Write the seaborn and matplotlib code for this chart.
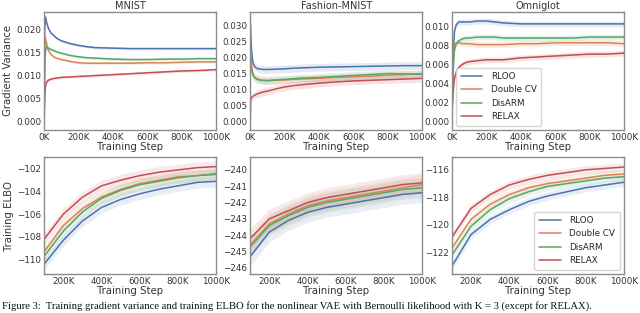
import numpy as np
import pandas as pd
import matplotlib
matplotlib.use("Agg")
import matplotlib.pyplot as plt
import seaborn as sns
from matplotlib.ticker import FuncFormatter, FixedLocator

sns.set_theme(style="white")
plt.rcParams['font.family'] = ['DejaVu Sans']

methods = ["RLOO", "Double CV", "DisARM", "RELAX"]
colors = ["#4c72b0", "#dd8452", "#55a868", "#c44e52"]
datasets = ["MNIST", "Fashion-MNIST", "Omniglot"]

# ---- gradient variance (top row), steps in K ----
var_steps = [0, 3, 8, 15, 25, 40, 60, 80, 100, 150, 200, 250, 300, 400, 500, 600, 700, 800, 900, 1000]

mnist_var_rloo  = [0.0, 0.0200, 0.0228, 0.0215, 0.0203, 0.0193, 0.0186, 0.0180, 0.0176, 0.0170, 0.0166, 0.0163, 0.0161, 0.0160, 0.0159, 0.0159, 0.0159, 0.0159, 0.0159, 0.0159]
mnist_var_dcv   = [0.0, 0.0160, 0.0182, 0.0168, 0.0155, 0.0146, 0.0140, 0.0137, 0.0135, 0.0131, 0.0128, 0.0127, 0.0127, 0.0127, 0.0127, 0.0128, 0.0128, 0.0129, 0.0130, 0.0130]
mnist_var_dis   = [0.0, 0.0120, 0.0155, 0.0163, 0.0160, 0.0157, 0.0154, 0.0151, 0.0149, 0.0144, 0.0141, 0.0139, 0.0138, 0.0136, 0.0135, 0.0135, 0.0136, 0.0136, 0.0137, 0.0137]
mnist_var_relax = [0.0, 0.0050, 0.0078, 0.0086, 0.0090, 0.0092, 0.0094, 0.0095, 0.0096, 0.0097, 0.0098, 0.0099, 0.0100, 0.0102, 0.0104, 0.0106, 0.0108, 0.0110, 0.0111, 0.0113]

fmnist_var_rloo  = [0.0320, 0.0280, 0.0220, 0.0185, 0.0172, 0.0166, 0.0164, 0.0163, 0.0163, 0.0164, 0.0165, 0.0167, 0.0168, 0.0170, 0.0171, 0.0172, 0.0173, 0.0174, 0.0175, 0.0175]
fmnist_var_dcv   = [0.0250, 0.0220, 0.0175, 0.0150, 0.0138, 0.0133, 0.0130, 0.0129, 0.0128, 0.0129, 0.0130, 0.0132, 0.0133, 0.0135, 0.0138, 0.0140, 0.0142, 0.0145, 0.0147, 0.0150]
fmnist_var_dis   = [0.0190, 0.0180, 0.0160, 0.0145, 0.0137, 0.0132, 0.0129, 0.0128, 0.0128, 0.0130, 0.0132, 0.0134, 0.0136, 0.0138, 0.0141, 0.0144, 0.0147, 0.0150, 0.0149, 0.0148]
fmnist_var_relax = [0.0000, 0.0070, 0.0074, 0.0078, 0.0082, 0.0086, 0.0090, 0.0093, 0.0095, 0.0102, 0.0108, 0.0112, 0.0115, 0.0120, 0.0124, 0.0127, 0.0129, 0.0131, 0.0133, 0.0135]

omni_var_rloo  = [0.0, 0.0030, 0.0070, 0.0095, 0.0102, 0.0105, 0.0105, 0.0105, 0.0105, 0.0106, 0.0106, 0.0105, 0.0104, 0.0103, 0.0103, 0.0103, 0.0103, 0.0103, 0.0103, 0.0103]
omni_var_dcv   = [0.0, 0.0030, 0.0065, 0.0080, 0.0083, 0.0083, 0.0082, 0.0082, 0.0082, 0.0081, 0.0081, 0.0081, 0.0081, 0.0082, 0.0082, 0.0083, 0.0083, 0.0083, 0.0083, 0.0082]
omni_var_dis   = [0.0, 0.0025, 0.0055, 0.0075, 0.0082, 0.0085, 0.0087, 0.0088, 0.0088, 0.0089, 0.0089, 0.0089, 0.0088, 0.0088, 0.0088, 0.0088, 0.0088, 0.0089, 0.0089, 0.0089]
omni_var_relax = [0.0, 0.0015, 0.0032, 0.0045, 0.0052, 0.0057, 0.0060, 0.0062, 0.0063, 0.0064, 0.0065, 0.0065, 0.0065, 0.0067, 0.0068, 0.0069, 0.0070, 0.0071, 0.0071, 0.0072]

var_band = [0.0003, 0.0012, 0.0003]  # half-width of shaded band per dataset

# ---- training ELBO (bottom row) ----
elbo_steps = [100, 200, 300, 400, 500, 600, 700, 800, 900, 1000]

mnist_elbo_rloo  = [-110.4, -108.3, -106.6, -105.4, -104.7, -104.2, -103.8, -103.5, -103.2, -103.1]
mnist_elbo_dcv   = [-109.3, -107.0, -105.5, -104.5, -103.8, -103.3, -103.0, -102.7, -102.6, -102.4]
mnist_elbo_dis   = [-109.7, -107.5, -105.8, -104.6, -103.9, -103.4, -103.1, -102.8, -102.6, -102.5]
mnist_elbo_relax = [-108.2, -106.0, -104.5, -103.5, -103.0, -102.6, -102.3, -102.1, -101.9, -101.8]

fmnist_elbo_rloo  = [-245.3, -243.8, -243.1, -242.6, -242.3, -242.1, -241.9, -241.7, -241.5, -241.4]
fmnist_elbo_dcv   = [-244.6, -243.3, -242.7, -242.2, -241.9, -241.7, -241.5, -241.3, -241.1, -240.9]
fmnist_elbo_dis   = [-244.7, -243.4, -242.8, -242.3, -242.0, -241.8, -241.6, -241.4, -241.2, -241.1]
fmnist_elbo_relax = [-244.2, -243.0, -242.5, -242.0, -241.7, -241.5, -241.3, -241.1, -240.9, -240.8]

omni_elbo_rloo  = [-123.0, -120.7, -119.6, -118.9, -118.3, -117.9, -117.6, -117.3, -117.1, -116.9]
omni_elbo_dcv   = [-121.7, -119.6, -118.5, -117.8, -117.3, -117.0, -116.8, -116.6, -116.4, -116.3]
omni_elbo_dis   = [-122.2, -120.1, -118.9, -118.1, -117.6, -117.2, -117.0, -116.8, -116.6, -116.5]
omni_elbo_relax = [-120.9, -118.8, -117.8, -117.1, -116.7, -116.4, -116.2, -116.0, -115.9, -115.8]

elbo_band = [0.5, 0.6, 0.3]

var_data = [
    [mnist_var_rloo, mnist_var_dcv, mnist_var_dis, mnist_var_relax],
    [fmnist_var_rloo, fmnist_var_dcv, fmnist_var_dis, fmnist_var_relax],
    [omni_var_rloo, omni_var_dcv, omni_var_dis, omni_var_relax],
]
elbo_data = [
    [mnist_elbo_rloo, mnist_elbo_dcv, mnist_elbo_dis, mnist_elbo_relax],
    [fmnist_elbo_rloo, fmnist_elbo_dcv, fmnist_elbo_dis, fmnist_elbo_relax],
    [omni_elbo_rloo, omni_elbo_dcv, omni_elbo_dis, omni_elbo_relax],
]

var_ylims = [(-0.0019, 0.0240), (-0.0027, 0.0345), (-0.00092, 0.0116)]
var_yticks = [[0.0, 0.005, 0.010, 0.015, 0.020],
              [0.0, 0.005, 0.010, 0.015, 0.020, 0.025, 0.030],
              [0.0, 0.002, 0.004, 0.006, 0.008, 0.010]]
elbo_ylims = [(-111.26, -100.97), (-246.36, -239.23), (-123.55, -115.08)]
elbo_yticks = [[-110, -108, -106, -104, -102],
               [-246, -245, -244, -243, -242, -241, -240],
               [-122, -120, -118, -116]]

fig = plt.figure(figsize=(6.4, 3.13), dpi=100)
lefts = [0.069, 0.391, 0.706]
w = 0.269
top_axes = [fig.add_axes([l, 0.585, w, 0.378]) for l in lefts]
bot_axes = [fig.add_axes([l, 0.125, w, 0.373]) for l in lefts]

kfmt = FuncFormatter(lambda v, p: f"{int(round(v))}K")
spine_col = "#8c8c8c"

def style(ax):
    for s in ax.spines.values():
        s.set_color(spine_col)
        s.set_linewidth(1.0)
    ax.tick_params(labelsize=6.3, length=0, pad=2, colors="#333333")
    ax.xaxis.set_major_formatter(kfmt)
    ax.set_xlabel("Training Step", fontsize=7.3, labelpad=0.5, color="#333333")

for i, ax in enumerate(top_axes):
    for j, m in enumerate(methods):
        y = np.array(var_data[i][j])
        df = pd.DataFrame({"step": var_steps, "value": y})
        ax.fill_between(var_steps, y - var_band[i], y + var_band[i], color=colors[j], alpha=0.15, lw=0)
        sns.lineplot(data=df, x="step", y="value", ax=ax, color=colors[j], lw=1.1, label=m)
    ax.set_xlim(0, 1000)
    ax.set_ylim(*var_ylims[i])
    ax.xaxis.set_major_locator(FixedLocator([0, 200, 400, 600, 800, 1000]))
    ax.yaxis.set_major_locator(FixedLocator(var_yticks[i]))
    ax.yaxis.set_major_formatter(FuncFormatter(lambda v, p: f"{v:.3f}"))
    ax.set_title(datasets[i], fontsize=7.0, pad=1.5, color="#333333")
    ax.set_ylabel("Gradient Variance" if i == 0 else "", fontsize=7.3, labelpad=2, color="#333333")
    style(ax)
    if i == 2:
        ax.legend(loc="lower left", fontsize=6.3, frameon=True, handlelength=2.5,
                  borderpad=0.5, labelspacing=0.5, handletextpad=1.0, edgecolor="#cccccc")
    else:
        ax.get_legend().remove()

for i, ax in enumerate(bot_axes):
    for j, m in enumerate(methods):
        y = np.array(elbo_data[i][j])
        df = pd.DataFrame({"step": elbo_steps, "value": y})
        ax.fill_between(elbo_steps, y - elbo_band[i], y + elbo_band[i], color=colors[j], alpha=0.12, lw=0)
        sns.lineplot(data=df, x="step", y="value", ax=ax, color=colors[j], lw=1.1, label=m)
    ax.set_xlim(100, 1000)
    ax.set_ylim(*elbo_ylims[i])
    ax.xaxis.set_major_locator(FixedLocator([200, 400, 600, 800, 1000]))
    ax.yaxis.set_major_locator(FixedLocator(elbo_yticks[i]))
    ax.yaxis.set_major_formatter(FuncFormatter(lambda v, p: f"\u2212{abs(int(v))}"))
    ax.set_ylabel("Training ELBO" if i == 0 else "", fontsize=7.3, labelpad=2, color="#333333")
    style(ax)
    if i == 2:
        ax.legend(loc="lower right", fontsize=6.3, frameon=True, handlelength=2.5,
                  borderpad=0.5, labelspacing=0.5, handletextpad=1.0, edgecolor="#cccccc")
    else:
        ax.get_legend().remove()

fig.text(0.003, 0.012,
         "Figure 3:  Training gradient variance and training ELBO for the nonlinear VAE with Bernoulli likelihood with K = 3 (except for RELAX).",
         fontsize=7.7, family="Liberation Serif", va="baseline", ha="left", color="#111111")

fig.savefig("out.png", dpi=100)
